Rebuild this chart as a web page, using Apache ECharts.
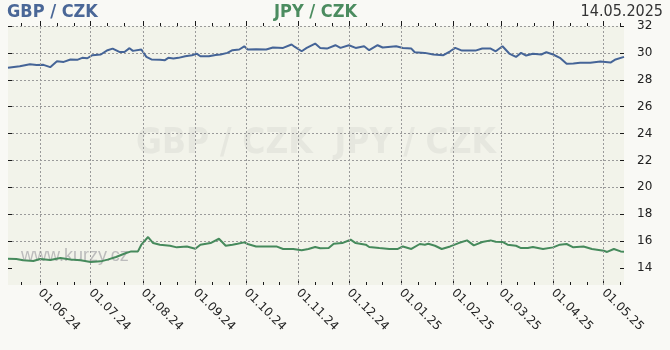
<!DOCTYPE html>
<html><head><meta charset="utf-8">
<script src="https://cdn.jsdelivr.net/npm/echarts@6/dist/echarts.min.js"></script>
<style>html,body{margin:0;padding:0;background:#f9f9f5;}#c{width:670px;height:350px;}</style>
</head><body><div id="c"></div>
<script>
const gbpDates = ['2024-05-13','2024-05-20','2024-05-26','2024-05-30','2024-06-03','2024-06-07','2024-06-11','2024-06-15','2024-06-19','2024-06-23','2024-06-26','2024-06-29','2024-07-02','2024-07-07','2024-07-11','2024-07-14','2024-07-18','2024-07-21','2024-07-24','2024-07-26','2024-07-31','2024-08-03','2024-08-06','2024-08-11','2024-08-14','2024-08-16','2024-08-19','2024-08-22','2024-08-26','2024-08-30','2024-09-02','2024-09-04','2024-09-09','2024-09-13','2024-09-16','2024-09-20','2024-09-23','2024-09-27','2024-09-30','2024-10-02','2024-10-07','2024-10-13','2024-10-17','2024-10-23','2024-10-28','2024-10-30','2024-11-03','2024-11-06','2024-11-11','2024-11-14','2024-11-18','2024-11-23','2024-11-26','2024-12-01','2024-12-05','2024-12-10','2024-12-13','2024-12-18','2024-12-21','2024-12-29','2025-01-02','2025-01-07','2025-01-09','2025-01-15','2025-01-20','2025-01-26','2025-01-30','2025-02-02','2025-02-06','2025-02-14','2025-02-18','2025-02-23','2025-02-26','2025-03-02','2025-03-06','2025-03-10','2025-03-13','2025-03-16','2025-03-20','2025-03-25','2025-03-28','2025-04-01','2025-04-05','2025-04-09','2025-04-13','2025-04-17','2025-04-23','2025-04-29','2025-05-05','2025-05-08','2025-05-13'];
const gbpValues = [28.89,29.01,29.16,29.09,29.11,28.94,29.38,29.33,29.51,29.48,29.63,29.60,29.83,29.88,30.20,30.32,30.07,30.07,30.35,30.15,30.25,29.70,29.51,29.48,29.46,29.63,29.58,29.63,29.75,29.83,29.93,29.75,29.75,29.85,29.88,30.00,30.20,30.25,30.49,30.25,30.27,30.25,30.40,30.37,30.62,30.44,30.12,30.37,30.69,30.37,30.32,30.57,30.37,30.57,30.37,30.49,30.20,30.57,30.40,30.49,30.37,30.32,30.05,30.00,29.88,29.83,30.12,30.37,30.17,30.17,30.32,30.32,30.12,30.49,29.95,29.70,30.00,29.80,29.93,29.88,30.05,29.88,29.63,29.19,29.21,29.26,29.26,29.36,29.28,29.51,29.70];
const jpyDates = ['2024-05-13','2024-05-18','2024-05-22','2024-05-28','2024-06-01','2024-06-07','2024-06-13','2024-06-19','2024-06-25','2024-07-01','2024-07-07','2024-07-11','2024-07-16','2024-07-22','2024-07-25','2024-07-29','2024-07-31','2024-08-04','2024-08-07','2024-08-11','2024-08-17','2024-08-21','2024-08-27','2024-09-01','2024-09-04','2024-09-10','2024-09-15','2024-09-19','2024-09-23','2024-09-26','2024-09-30','2024-10-02','2024-10-07','2024-10-13','2024-10-19','2024-10-23','2024-10-29','2024-11-03','2024-11-07','2024-11-11','2024-11-14','2024-11-19','2024-11-22','2024-11-27','2024-12-02','2024-12-05','2024-12-11','2024-12-13','2024-12-19','2024-12-25','2024-12-30','2025-01-02','2025-01-07','2025-01-12','2025-01-15','2025-01-17','2025-01-21','2025-01-25','2025-01-30','2025-02-04','2025-02-09','2025-02-13','2025-02-18','2025-02-23','2025-02-26','2025-03-02','2025-03-05','2025-03-10','2025-03-13','2025-03-17','2025-03-20','2025-03-26','2025-04-01','2025-04-05','2025-04-09','2025-04-13','2025-04-19','2025-04-24','2025-05-01','2025-05-03','2025-05-07','2025-05-11','2025-05-13'];
const jpyValues = [14.69,14.67,14.57,14.52,14.67,14.59,14.74,14.62,14.57,14.44,14.49,14.62,14.81,15.11,15.23,15.23,15.73,16.30,15.85,15.73,15.65,15.53,15.60,15.43,15.73,15.85,16.17,15.65,15.73,15.80,15.90,15.78,15.60,15.60,15.60,15.41,15.41,15.31,15.41,15.56,15.46,15.48,15.80,15.85,16.10,15.85,15.73,15.56,15.48,15.41,15.41,15.60,15.41,15.78,15.73,15.80,15.65,15.41,15.60,15.85,16.05,15.68,15.93,16.05,15.95,15.93,15.73,15.65,15.48,15.48,15.56,15.41,15.53,15.73,15.78,15.53,15.60,15.41,15.28,15.19,15.41,15.23,15.21];
const monthTicks = ['2024-06-01','2024-07-01','2024-08-01','2024-09-01','2024-10-01','2024-11-01','2024-12-01','2025-01-01','2025-02-01','2025-03-01','2025-04-01','2025-05-01'];
const minorTicks = ['2024-05-21','2024-06-11','2024-06-21','2024-07-11','2024-07-21','2024-08-11','2024-08-21','2024-09-11','2024-09-21','2024-10-11','2024-10-21','2024-11-11','2024-11-21','2024-12-11','2024-12-21','2025-01-11','2025-01-21','2025-02-11','2025-02-21','2025-03-11','2025-03-21','2025-04-11','2025-04-21','2025-05-11'];
const yTicks = [14,16,18,20,22,24,26,28,30,32];
const xMin = '2024-05-13', xMax = '2025-05-13';
const yMin = 12.73, yMax = 32;
const titleGbp = 'GBP / CZK', titleJpy = 'JPY / CZK', dateText = '14.05.2025';
const watermark = 'GBP / CZK  JPY / CZK', siteText = 'www.kurzy.cz';

function ts(s){const p=s.split('-').map(Number);return Date.UTC(p[0],p[1]-1,p[2]);}
function fmt(v){const d=new Date(v);const z=n=>(n<10?'0':'')+n;return z(d.getUTCDate())+'.'+z(d.getUTCMonth()+1)+'.'+z(d.getUTCFullYear()%100);}
const monthTs = monthTicks.map(ts), minorTs = minorTicks.map(ts);
const grid = '#9a9a9a', tickC = '#1a1a1a';
const xBase = {type:'value', min:ts(xMin), max:ts(xMax), gridIndex:0, scale:true, axisLine:{show:false}, splitLine:{show:false}, axisLabel:{show:false}, axisPointer:{show:false}};
const yBase = {type:'value', min:yMin, max:yMax, minInterval:2, maxInterval:2, splitNumber:10, gridIndex:0, axisLine:{show:false}};

const chart = echarts.init(document.getElementById('c'), null, {renderer:'canvas'});
chart.setOption({
  animation:false,
  backgroundColor:'#f9f9f5',
  grid:{left:8, right:46, top:26, bottom:65, containLabel:false, outerBoundsMode:'none', show:false},
  xAxis:[
    Object.assign({}, xBase, {position:'bottom',
      axisTick:{show:true, inside:true, length:5, customValues:monthTs, lineStyle:{color:tickC}},
      axisLabel:{show:true, customValues:monthTs, rotate:-45, margin:6, formatter:fmt, color:'#222', fontSize:12, fontFamily:'DejaVu Sans', hideOverlap:false, showMinLabel:true, showMaxLabel:true}}),
    Object.assign({}, xBase, {position:'bottom', axisTick:{show:true, inside:true, length:3, customValues:minorTs, lineStyle:{color:tickC}}}),
    Object.assign({}, xBase, {position:'top', axisTick:{show:true, inside:false, length:5, customValues:monthTs, lineStyle:{color:tickC}}}),
    Object.assign({}, xBase, {position:'top', axisTick:{show:true, inside:false, length:3, customValues:minorTs, lineStyle:{color:tickC}}})
  ],
  yAxis:[
    Object.assign({}, yBase, {position:'right',
      axisLabel:{show:true, customValues:yTicks, margin:13, color:'#222', fontSize:12, fontFamily:'DejaVu Sans', align:'left'},
      axisTick:{show:true, inside:true, length:4, customValues:yTicks, lineStyle:{color:tickC}},
      splitLine:{show:true, showMinLine:false, lineStyle:{color:grid, type:[2,2], width:1}}}),
    Object.assign({}, yBase, {position:'left', axisLabel:{show:false},
      axisTick:{show:true, inside:true, length:4, customValues:yTicks, lineStyle:{color:tickC}},
      splitLine:{show:false}})
  ],
  graphic:{elements:[
    {type:'rect', shape:{x:8, y:26, width:616, height:259}, style:{fill:'#f2f3ea'}, z:-10, silent:true},
    {type:'text', x:316, y:144, z:-9, silent:true, style:{text:watermark, font:'bold 35px "DejaVu Sans Condensed", "DejaVu Sans"', fill:'#e6e7df', align:'center', verticalAlign:'middle'}},
    {type:'text', x:21, y:256, z:1, silent:true, style:{text:siteText, font:'18px "Liberation Sans"', fill:'#bcbcbc', verticalAlign:'middle'}},
    {type:'text', x:7, y:12, silent:true, style:{text:titleGbp, font:'bold 18px "DejaVu Sans Condensed", "DejaVu Sans"', fill:'#4a6797', verticalAlign:'middle'}},
    {type:'text', x:274, y:12, silent:true, style:{text:titleJpy, font:'bold 18px "DejaVu Sans Condensed", "DejaVu Sans"', fill:'#4b8c5f', verticalAlign:'middle'}},
    {type:'text', x:663, y:12, silent:true, style:{text:dateText, font:'16px "DejaVu Sans Condensed", "DejaVu Sans"', fill:'#333', align:'right', verticalAlign:'middle'}}
  ]},
  series:[
    {type:'line', name:'grid', xAxisIndex:0, yAxisIndex:0, data:[], silent:true, z:1,
      markLine:{silent:true, symbol:['none','none'], animation:false, label:{show:false},
        lineStyle:{color:grid, type:[2,2], width:1},
        data:monthTs.map(v=>({xAxis:v}))}},
    {type:'line', name:titleGbp, xAxisIndex:0, yAxisIndex:0, data:gbpDates.map((d,i)=>[ts(d), gbpValues[i]]), showSymbol:false, symbol:'none', silent:true, z:3, lineStyle:{color:'#456497', width:2}},
    {type:'line', name:titleJpy, xAxisIndex:0, yAxisIndex:0, data:jpyDates.map((d,i)=>[ts(d), jpyValues[i]]), showSymbol:false, symbol:'none', silent:true, z:3, lineStyle:{color:'#468a5c', width:2}}
  ]
});
</script></body></html>
